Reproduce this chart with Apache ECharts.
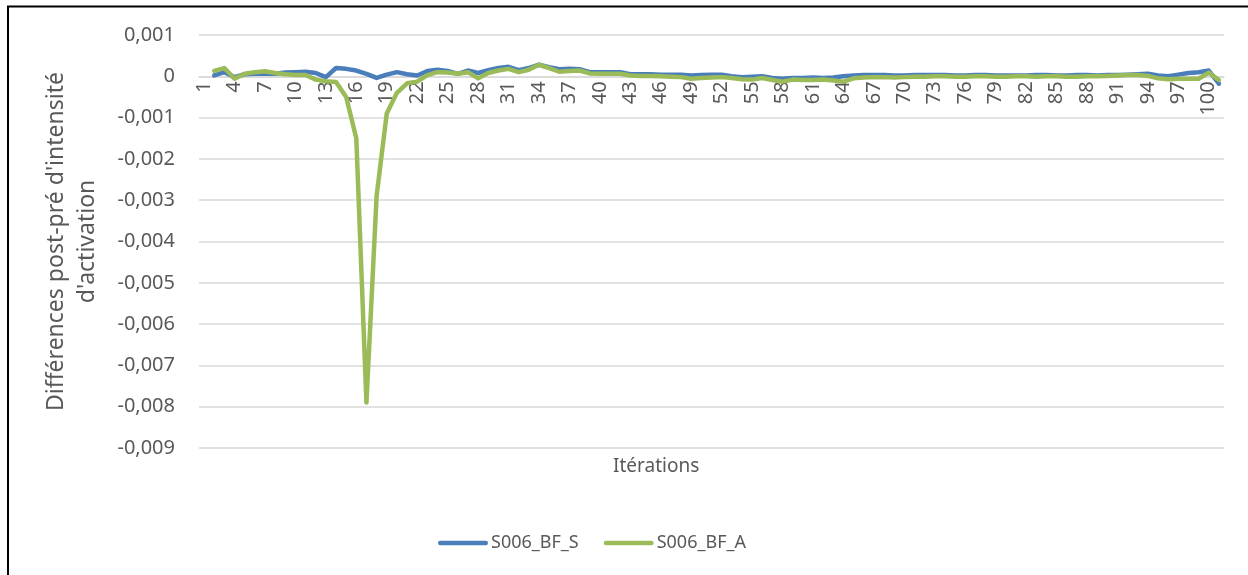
<!DOCTYPE html>
<html>
<head>
<meta charset="utf-8">
<script src="https://cdn.jsdelivr.net/npm/echarts@6/dist/echarts.min.js"></script>
<style>html,body{margin:0;padding:0;background:#fff;}#c{width:1248px;height:575px;}</style>
</head>
<body>
<div id="c"></div>
<script>
const categories = ['1','2','3','4','5','6','7','8','9','10','11','12','13','14','15','16','17','18','19','20',
'21','22','23','24','25','26','27','28','29','30','31','32','33','34','35','36','37','38','39','40',
'41','42','43','44','45','46','47','48','49','50','51','52','53','54','55','56','57','58','59','60',
'61','62','63','64','65','66','67','68','69','70','71','72','73','74','75','76','77','78','79','80',
'81','82','83','84','85','86','87','88','89','90','91','92','93','94','95','96','97','98','99','100','101'];

const seriesS = [null,0.00002,0.0001,-0.00002,0.00005,0.00006,0.00007,0.00006,0.00009,0.0001,
0.00011,0.00008,-0.00002,0.0002,0.00018,0.00014,0.00006,-0.00004,0.00004,0.0001,
0.00005,0.00002,0.00013,0.00016,0.00013,0.00006,0.00014,0.00008,0.00015,0.0002,
0.00023,0.00015,0.0002,0.00028,0.00022,0.00017,0.00018,0.00017,0.0001,0.0001,
0.0001,0.0001,0.00005,0.00005,0.00005,0.00004,0.00004,0.00004,0.00002,0.00003,
0.00004,0.00004,0.0,-0.00002,-0.00001,0.0,-0.00004,-0.00006,-0.00004,-0.00004,
-0.00003,-0.00004,-0.00003,0.0,0.00002,0.00003,0.00003,0.00003,0.00002,0.00002,
0.00003,0.00003,0.00003,0.00003,0.00002,0.00002,0.00003,0.00003,0.00002,0.00002,
0.00002,0.00002,0.00003,0.00003,0.00002,0.00002,0.00003,0.00003,0.00002,0.00003,
0.00003,0.00004,0.00005,0.00006,0.00002,0.0,0.00004,0.00008,0.0001,0.00014,-0.00018];

const seriesA = [null,0.00013,0.0002,-0.00006,0.00006,0.0001,0.00012,0.00008,0.00005,0.00003,
0.00003,-0.00008,-0.00012,-0.00014,-0.0005,-0.0015,-0.0079,-0.0029,-0.0009,-0.0004,
-0.00017,-0.00013,0.00003,0.0001,0.00009,0.00006,0.0001,-0.00005,0.00008,0.00014,
0.00018,0.0001,0.00016,0.00028,0.0002,0.00011,0.00013,0.00014,0.00007,0.00006,
0.00006,0.00006,0.00002,0.00001,0.00001,0.0,-0.00001,-0.00002,-0.00006,-0.00004,
-0.00003,-0.00002,-0.00004,-0.00007,-0.00008,-0.00004,-0.00009,-0.00013,-0.00008,-0.00009,
-0.00009,-0.00008,-0.0001,-0.00013,-0.00005,-0.00003,-0.00002,-0.00002,-0.00003,-0.00002,
-0.00001,-0.00001,0.0,0.0,-0.00001,-0.00001,0.0,0.0,-0.00001,-0.00001,
0.0,0.0,-0.00001,0.0,0.0,-0.00001,-0.00001,0.0,0.0,0.00001,
0.00002,0.00003,0.00003,0.00001,-0.00005,-0.00007,-0.00006,-0.00006,-0.00006,0.00009,-0.00009];

const seriesNames = ['S006_BF_S','S006_BF_A'];
const xTitle = 'Itérations';
const yTitle = "Différences post-pré d'intensité\nd'activation";

const FONT = '"Noto Sans", sans-serif';
const GRID_TOP = 35, GRID_BOTTOM_Y = 448;
const Y_MIN = -0.009, Y_MAX = 0.001;
// distance from plot bottom to the zero line (axis crosses at 0)
const zeroOffset = (GRID_BOTTOM_Y - GRID_TOP) * (0 - Y_MIN) / (Y_MAX - Y_MIN);

const chart = echarts.init(document.getElementById('c'), null, {renderer:'canvas'});
chart.setOption({
  animation:false,
  backgroundColor:'#fff',
  graphic:[
    {type:'rect', shape:{x:8, y:6.5, width:1300, height:700}, style:{fill:'none', stroke:'#000', lineWidth:2}, silent:true},
    {type:'text', left:613, top:457, style:{text:xTitle, fill:'#595959', font:'19px "Noto Sans", sans-serif'}}
  ],
  grid:{left:199, right:24, top:GRID_TOP, bottom:575-GRID_BOTTOM_Y},
  legend:{
    data:seriesNames, left:433, top:529, itemWidth:50, itemHeight:14, itemGap:25,
    textStyle:{color:'#595959', fontSize:18, fontFamily:FONT, padding:[0,0,0,-2]},
    icon:'path://M2,4.5 L48,4.5 A2.25,2.25 0 0 1 48,9 L2,9 A2.25,2.25 0 0 1 2,4.5 Z'
  },
  xAxis:{
    type:'category', data:categories, boundaryGap:true, position:'bottom',
    offset:-zeroOffset,
    axisLine:{onZero:false, lineStyle:{color:'#d9d9d9', width:1.5}},
    axisTick:{show:false},
    axisLabel:{interval:2, rotate:90, margin:5, color:'#595959', fontSize:20, fontFamily:FONT}
  },
  yAxis:{
    type:'value', min:Y_MIN, max:Y_MAX, interval:0.001,
    name:yTitle, nameLocation:'middle', nameGap:96,
    nameTextStyle:{color:'#595959', fontSize:23, fontFamily:FONT, lineHeight:31},
    axisLine:{show:false}, axisTick:{show:false},
    splitLine:{lineStyle:{color:'#d9d9d9', width:1.5}},
    axisLabel:{margin:24, color:'#595959', fontSize:20, fontFamily:FONT,
      formatter:function(v){ if(Math.abs(v)<1e-12) return '0'; return v.toFixed(3).replace('.', ','); }}
  },
  series:[
    {name:seriesNames[0], type:'line', data:seriesS, symbol:'none', showSymbol:false,
     lineStyle:{color:'#4a7ebb', width:4.5, cap:'round', join:'round'}, itemStyle:{color:'#4a7ebb'}},
    {name:seriesNames[1], type:'line', data:seriesA, symbol:'none', showSymbol:false,
     lineStyle:{color:'#9bbb59', width:4.5, cap:'round', join:'round'}, itemStyle:{color:'#9bbb59'}}
  ]
});
</script>
</body>
</html>
